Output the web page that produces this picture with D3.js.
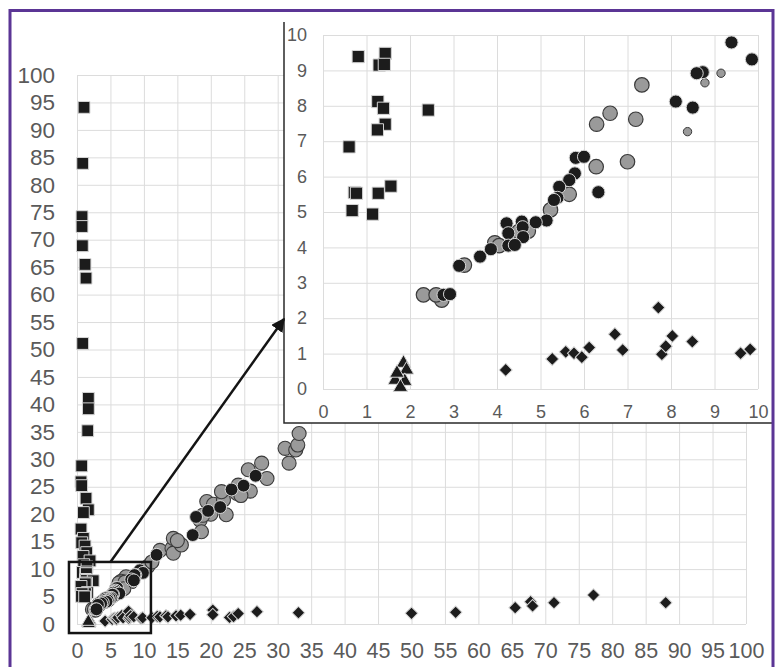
<!DOCTYPE html>
<html><head><meta charset="utf-8">
<script src="https://cdn.jsdelivr.net/npm/d3@7"></script>
<style>body{margin:0;background:#fff}svg{display:block}text{font-family:"Liberation Sans",Arial,sans-serif}</style>
</head><body>
<script>
// ---------- data ----------
const mainTicks = d3.range(0, 101, 5);
const insetTicks = d3.range(0, 11, 1);

const squareX = [1.05,0.85,0.75,0.75,0.8,1.2,1.35,0.85,1.7,1.7,1.6,0.7,0.6,0.7,1.35,1.7,0.95,0.6,0.95,0.7,1.2,1.45,0.9,1.95,1.0,1.5,
  0.81,1.43,1.29,1.41,1.26,1.39,2.42,1.43,1.25,0.6,1.56,1.27,0.72,0.77,0.67,1.14];
const squareY = [94.1,83.9,74.2,72.4,68.9,65.5,63.0,51.1,41.1,39.2,35.2,28.8,25.9,25.2,22.9,20.8,20.3,17.3,15.6,14.8,14.2,13.0,12.3,11.5,10.8,10.4,
  9.39,9.48,9.15,9.17,8.12,7.93,7.88,7.48,7.32,6.84,5.73,5.53,5.55,5.53,5.04,4.94];

const greyX = [7.33,6.6,6.29,7.19,6.28,7.0,5.66,5.23,4.72,3.95,3.25,2.31,2.73,2.6,4.05,4.5,
  10.6,11.2,12.4,14.2,14.4,14.4,15.6,15.0,18.4,18.6,19.4,20.4,21.9,22.3,21.6,23.9,24.1,25.6,25.9,27.6,28.4,31.1,31.7,32.7,33.0,33.2,20.0,18.8,24.5];
const greyY = [8.59,7.79,7.48,7.62,6.28,6.42,5.5,5.06,4.46,4.13,3.5,2.66,2.51,2.66,4.05,4.45,
  10.5,11.3,13.4,13.8,12.9,15.6,14.4,15.2,18.9,16.8,22.3,21.8,22.6,19.9,24.1,23.8,25.3,28.1,24.2,29.3,26.5,32.0,29.3,31.7,32.6,34.7,20.0,19.8,23.4];

const smallGreyX = [9.15,8.78,8.38];
const smallGreyY = [8.92,8.65,7.27];

const blackX = [9.39,9.86,8.73,8.59,8.11,8.5,5.81,6.0,5.79,5.66,5.43,6.33,5.39,5.31,5.14,4.89,4.57,4.59,4.22,4.26,4.6,4.26,4.41,3.86,3.61,3.13,2.77,2.92,
  11.9,17.3,17.8,19.6,21.4,23.1,24.9,26.7];
const blackY = [9.79,9.31,8.95,8.92,8.12,7.95,6.53,6.56,6.09,5.9,5.71,5.56,5.4,5.34,4.76,4.71,4.73,4.57,4.68,4.4,4.29,4.05,4.07,3.95,3.74,3.48,2.66,2.68,
  12.6,16.2,19.5,20.6,21.3,24.5,25.2,27.0];

const diamondX = [4.2,5.27,5.58,5.77,5.95,6.12,6.71,6.89,7.71,7.79,7.88,8.03,8.49,9.6,9.82,
  11.2,12.0,12.4,13.3,13.6,14.8,15.5,16.9,20.3,20.3,22.8,23.4,24.1,26.9,33.1,50.0,56.6,65.5,67.8,68.1,71.3,77.2,88.0];
const diamondY = [0.54,0.85,1.05,1.01,0.9,1.17,1.55,1.1,2.3,0.98,1.21,1.5,1.34,1.01,1.12,
  1.15,1.4,1.3,1.5,1.3,1.5,1.6,1.76,2.55,1.7,1.2,1.35,1.9,2.25,2.06,1.94,2.12,2.98,4.07,3.3,3.89,5.28,3.89];

const triX = [1.85,1.92,1.66,1.88,1.78,1.7];
const triY = [0.73,0.54,0.25,0.22,0.05,0.45];

// ---------- layout ----------
const W = 776, H = 667;
const svg = d3.select("body").append("svg").attr("width", W).attr("height", H);

const xMain = d3.scaleLinear([0, 100], [77, 746]);
const yMain = d3.scaleLinear([0, 100], [624, 75]);
const xIn = d3.scaleLinear([0, 10], [323, 758]);
const yIn = d3.scaleLinear([0, 10], [389, 35]);

const BLACK = "#1c1c1c", BSTROKE = "#d6d6d6", GREY = "#9a9a9a", GSTROKE = "#3a3a3a";
const LBL = "#5a5a5a", GRID = "#dcdcdc";

function zip(xs, ys) { return xs.map((x, i) => [x, ys[i]]); }

function drawSeries(g, xs, ys, sx, sy, opt, filter) {
  let pts = zip(xs, ys);
  if (filter) pts = pts.filter(filter);
  const sym = d3.symbol().type(opt.type).size(opt.size);
  g.append("g").selectAll("path").data(pts).join("path")
    .attr("d", sym)
    .attr("transform", d => `translate(${sx(d[0])},${sy(d[1])})` + (opt.rotate ? " rotate(45)" : ""))
    .attr("fill", opt.fill).attr("stroke", opt.stroke).attr("stroke-width", opt.sw);
}

function axes(g, sx, sy, ticks, fsX, fsY, padX, padY) {
  const [x0, x1] = sx.range(), [y0, y1] = sy.range();
  const gx = g.append("g").attr("transform", `translate(0,${y0})`)
    .call(d3.axisBottom(sx).tickValues(ticks).tickSize(-(y0 - y1)).tickPadding(padY).tickFormat(d3.format("d")));
  const gy = g.append("g").attr("transform", `translate(${x0},0)`)
    .call(d3.axisLeft(sy).tickValues(ticks).tickSize(-(x1 - x0)).tickPadding(padX).tickFormat(d3.format("d")));
  [[gx, fsX], [gy, fsY]].forEach(([a, fs]) => {
    a.select(".domain").remove();
    a.selectAll("line").attr("stroke", GRID).attr("stroke-width", 1);
    a.selectAll("text").attr("fill", LBL).style("font-size", fs + "px")
      .style("font-family", '"Liberation Sans", Arial, sans-serif');
  });
}

// ---------- main chart ----------
const main = svg.append("g");
axes(main, xMain, yMain, mainTicks, 21.5, 22.5, 22, 18.5);

drawSeries(main, squareX, squareY, xMain, yMain, {type: d3.symbolSquare, size: 140, fill: BLACK, stroke: BSTROKE, sw: 1});
drawSeries(main, greyX, greyY, xMain, yMain, {type: d3.symbolCircle, size: 155, fill: GREY, stroke: GSTROKE, sw: 1.1});
drawSeries(main, smallGreyX, smallGreyY, xMain, yMain, {type: d3.symbolCircle, size: 60, fill: GREY, stroke: GSTROKE, sw: 1});
drawSeries(main, blackX, blackY, xMain, yMain, {type: d3.symbolCircle, size: 130, fill: BLACK, stroke: BSTROKE, sw: 1});
drawSeries(main, diamondX, diamondY, xMain, yMain, {type: d3.symbolSquare, size: 80, fill: BLACK, stroke: BSTROKE, sw: 1, rotate: true});
drawSeries(main, triX, triY, xMain, yMain, {type: d3.symbolTriangle, size: 75, fill: BLACK, stroke: BSTROKE, sw: 1});

// zoom box
main.append("rect")
  .attr("x", xMain(-1.2)).attr("y", yMain(11.3))
  .attr("width", xMain(11.05) - xMain(-1.2)).attr("height", yMain(-1.65) - yMain(11.3))
  .attr("fill", "none").attr("stroke", "#141414").attr("stroke-width", 2.5);

// ---------- inset ----------
const insetL = 284, insetT = 22, insetR = 773, insetB = 423;
const inset = svg.append("g");
inset.append("rect").attr("x", insetL).attr("y", insetT).attr("width", insetR - insetL).attr("height", insetB - insetT).attr("fill", "#fff");
axes(inset, xIn, yIn, insetTicks, 18, 18, 16, 16);
const inRange = d => d[0] >= 0 && d[0] <= 10.2 && d[1] >= 0 && d[1] <= 10.2;
drawSeries(inset, squareX, squareY, xIn, yIn, {type: d3.symbolSquare, size: 150, fill: BLACK, stroke: BSTROKE, sw: 1}, inRange);
drawSeries(inset, greyX, greyY, xIn, yIn, {type: d3.symbolCircle, size: 165, fill: GREY, stroke: GSTROKE, sw: 1.2}, inRange);
drawSeries(inset, smallGreyX, smallGreyY, xIn, yIn, {type: d3.symbolCircle, size: 55, fill: GREY, stroke: GSTROKE, sw: 1}, inRange);
drawSeries(inset, blackX, blackY, xIn, yIn, {type: d3.symbolCircle, size: 135, fill: BLACK, stroke: BSTROKE, sw: 1}, inRange);
drawSeries(inset, diamondX, diamondY, xIn, yIn, {type: d3.symbolSquare, size: 85, fill: BLACK, stroke: BSTROKE, sw: 1, rotate: true}, inRange);
drawSeries(inset, triX, triY, xIn, yIn, {type: d3.symbolTriangle, size: 90, fill: BLACK, stroke: BSTROKE, sw: 1}, inRange);
inset.append("path")
  .attr("d", `M${insetL},${insetT}V${insetB}H${insetR}`)
  .attr("fill", "none").attr("stroke", "#2a2a2a").attr("stroke-width", 1.5);

// ---------- arrow ----------
const defs = svg.append("defs");
defs.append("marker").attr("id", "ah").attr("viewBox", "0 0 10 10").attr("refX", 9).attr("refY", 5)
  .attr("markerWidth", 5.5).attr("markerHeight", 5.5).attr("orient", "auto")
  .append("path").attr("d", "M0,0L10,5L0,10Z").attr("fill", "#141414");
svg.append("line")
  .attr("x1", xMain(5)).attr("y1", yMain(11.3))
  .attr("x2", insetL).attr("y2", yIn(1.98))
  .attr("stroke", "#141414").attr("stroke-width", 2.5).attr("marker-end", "url(#ah)");

// ---------- frame ----------
svg.append("rect").attr("x", 10).attr("y", 10.5).attr("width", 763).attr("height", 720)
  .attr("fill", "none").attr("stroke", "#5b3595").attr("stroke-width", 3);
</script>
</body></html>
